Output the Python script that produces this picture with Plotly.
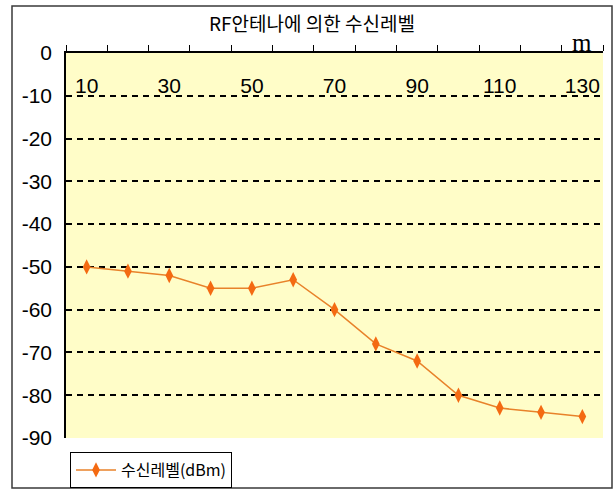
import plotly.graph_objects as go

distances = [10, 20, 30, 40, 50, 60, 70, 80, 90, 100, 110, 120, 130]
levels = [-50, -51, -52, -55, -55, -53, -60, -68, -72, -80, -83, -84, -85]
x_tick_vals = [10, 30, 50, 70, 90, 110, 130]
x_tick_text = ["10", "30", "50", "70", "90", "110", "130"]
x_boundaries = [5, 15, 25, 35, 45, 55, 65, 75, 85, 95, 105, 115, 125, 135]
y_tick_vals = [0, -10, -20, -30, -40, -50, -60, -70, -80, -90]
y_tick_text = ["0", "-10", "-20", "-30", "-40", "-50", "-60", "-70", "-80", "-90"]
series_name = "수신레벨(dBm)"
title_text = "RF안테나에 의한 수신레벨"
unit_text = "m"

W, H = 615, 492
ml, mr, mt, mb = 66, 12, 53, 54
pw, ph = W - ml - mr, H - mt - mb

def px2x(px):
    return (px - ml) / pw

def py2y(py):
    return (H - mb - py) / ph

narrow = "Liberation Sans Narrow, Arial Narrow, sans-serif"
kr = "Noto Sans CJK KR, sans-serif"

fig = go.Figure()
fig.add_trace(go.Scatter(
    x=distances, y=levels, name=series_name, mode="lines+markers",
    line=dict(color="#E8822A", width=1.5),
    marker=dict(symbol="diamond-tall", size=11, color="#F46A12",
                line=dict(width=0)),
    showlegend=True,
))
# empty helper trace so that the label axis (x2) is rendered
fig.add_trace(go.Scatter(x=[], y=[], xaxis="x2", yaxis="y",
                         showlegend=False, hoverinfo="skip"))

fig.update_layout(
    width=W, height=H,
    margin=dict(l=ml, r=mr, t=mt, b=mb, autoexpand=False),
    paper_bgcolor="white",
    plot_bgcolor="#FFFDC8",
    showlegend=True,
    legend=dict(
        x=px2x(70), y=py2y(452), xanchor="left", yanchor="top",
        bordercolor="black", borderwidth=1, bgcolor="white",
        font=dict(family=kr, size=16, color="black"),
        itemwidth=40, tracegroupgap=0,
    ),
    xaxis=dict(
        range=[5, 135], side="top", showgrid=False, zeroline=False,
        showline=True, linecolor="black", linewidth=1.5,
        showticklabels=False, ticks="",
        minor=dict(tickvals=x_boundaries, ticks="outside", ticklen=6,
                   tickcolor="black", tickwidth=1.2, showgrid=False),
    ),
    xaxis2=dict(
        range=[5, 135], overlaying="x", anchor="free", position=py2y(71),
        side="bottom",
        showgrid=False, zeroline=False, showline=False,
        tickvals=x_tick_vals, ticktext=x_tick_text, ticks="",
        tickfont=dict(family=narrow, size=21, color="black"),
    ),
    yaxis=dict(
        range=[-90, 0], tickvals=y_tick_vals, ticktext=y_tick_text,
        zeroline=False,
        showline=True, linecolor="black", linewidth=1.5,
        ticks="inside", ticklen=5, tickcolor="black", tickwidth=1.2,
        showgrid=True, gridcolor="black", gridwidth=1.6,
        griddash="6px,5px",
        tickfont=dict(family=narrow, size=21, color="black"),
        ticklabelstandoff=8,
    ),
    shapes=[dict(type="rect", xref="paper", yref="paper",
                 x0=px2x(12), x1=px2x(612), y0=py2y(488), y1=py2y(6),
                 line=dict(color="#3a3a3a", width=1.5), layer="below")],
    annotations=[
        dict(text=title_text, xref="paper", yref="paper",
             x=px2x(312), y=py2y(22), xanchor="center", yanchor="middle",
             showarrow=False,
             font=dict(family=kr, size=19, color="black")),
        dict(text=unit_text, xref="paper", yref="paper",
             x=px2x(582), y=py2y(42), xanchor="center", yanchor="middle",
             showarrow=False,
             font=dict(family="Liberation Serif, serif", size=25, color="black")),
    ],
)

fig.write_html("out.html")
